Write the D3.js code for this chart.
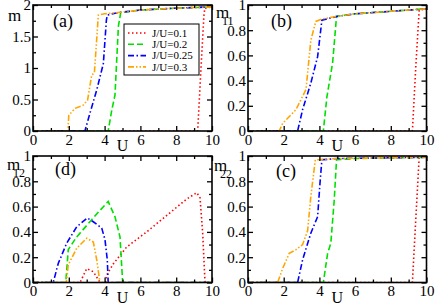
<!DOCTYPE html>
<html>
<head>
<meta charset="utf-8">
<script src="https://cdn.jsdelivr.net/npm/d3@7"></script>
<style>
  body { margin: 0; background: #fff; }
  svg, svg text { font-family: "Liberation Serif", "Times New Roman", serif !important; }
</style>
</head>
<body>
<div id="chart"></div>
<script>
// series labels / styles order: J/U = 0.1, 0.2, 0.25, 0.3
var seriesNames = ["J/U=0.1", "J/U=0.2", "J/U=0.25", "J/U=0.3"];
var xTicks = [0, 2, 4, 6, 8, 10];

// panel (a): m vs U
var mA_01 = [[0,0],[9.2,0],[9.39,1.02],[9.55,1.84],[9.6,1.95],[10,1.97]];
var mA_02 = [[0,0],[4.2,0],[4.4,0.33],[4.58,0.57],[4.77,1.66],[4.9,1.88],[6,1.92],[8,1.95],[10,1.97]];
var mA_025 = [[0,0],[2.9,0],[3.18,0.28],[3.56,0.65],[3.93,1.07],[4.1,1.76],[4.15,1.84],[4.75,1.88],[6,1.92],[8,1.95],[10,1.97]];
var mA_03 = [[0,0],[1.95,0],[2.0,0.25],[2.35,0.36],[2.8,0.41],[3.05,0.49],[3.28,0.89],[3.43,0.92],[3.65,1.84],[4.0,1.86],[4.75,1.88],[6,1.92],[8,1.95],[10,1.97]];

// panel (b): m11
var mB_01 = [[0,0],[9.21,0],[9.4,0.51],[9.59,0.96],[10,0.97]];
var mB_02 = [[0,0],[4.22,0],[4.42,0.27],[4.74,0.54],[4.96,0.91],[6,0.93],[8,0.95],[10,0.97]];
var mB_025 = [[0,0],[2.78,0],[3.06,0.17],[3.52,0.38],[3.9,0.59],[4.14,0.88],[5,0.91],[6,0.93],[8,0.95],[10,0.97]];
var mB_03 = [[0,0],[1.75,0],[1.94,0.06],[2.69,0.17],[3.25,0.33],[3.52,0.72],[3.8,0.87],[4.18,0.89],[5,0.91],[6,0.93],[8,0.95],[10,0.97]];

// panel (d): m12
var mD_01 = [[0,0],[2.63,0],[3.0,0.11],[3.37,0.085],[3.75,0],[4.05,0],[4.12,0.06],[4.5,0.15],[5.23,0.28],[6.35,0.40],[7.47,0.53],[8.59,0.66],[9.15,0.71],[9.33,0.67],[9.48,0.39],[9.61,0],[10,0]];
var mD_02 = [[0,0],[1.83,0],[1.97,0.26],[2.44,0.36],[3.18,0.48],[3.74,0.57],[4.2,0.64],[4.58,0.52],[4.86,0.36],[5.01,0],[10,0]];
var mD_025 = [[0,0],[1.13,0],[1.41,0.15],[1.88,0.31],[2.44,0.44],[3.03,0.51],[3.37,0.48],[3.84,0.43],[4.02,0.34],[4.15,0.18],[4.2,0],[10,0]];
var mD_03 = [[0,0],[1.86,0],[1.97,0.14],[2.44,0.27],[3.0,0.35],[3.37,0.32],[3.56,0.18],[3.74,0],[10,0]];

// panel (c): m22
var mC_01 = [[0,0],[9.21,0],[9.4,0.5],[9.59,0.99],[10,0.99]];
var mC_02 = [[0,0],[4.22,0],[4.46,0.23],[4.64,0.31],[4.83,0.65],[4.96,0.97],[6,0.98],[10,0.99]];
var mC_025 = [[0,0],[2.78,0],[3.06,0.18],[3.52,0.39],[3.9,0.52],[4.03,0.78],[4.14,0.97],[5,0.98],[10,0.99]];
var mC_03 = [[0,0],[1.66,0],[1.94,0.11],[2.31,0.23],[2.69,0.26],[3.06,0.30],[3.34,0.41],[3.52,0.68],[3.77,0.97],[5,0.98],[10,0.99]];

var colors = ["#ff0000", "#00e000", "#0000ff", "#ffa500"];
var dashes = ["1.5,2.5", "6,3", "6,2.5,1.5,2.5", "6,2,1.5,2,1.5,2"];
var serif = "'Liberation Serif', 'Times New Roman', serif";

var svg = d3.select("#chart").append("svg")
  .attr("width", 436)
  .attr("height", 305)
  .style("font-family", serif);

var panels = [
  {x0: 33, x1: 212, y0: 131, y1: 5, ymax: 2, yt: [0, 0.5, 1, 1.5, 2], ym: 0.25,
   series: [mA_01, mA_02, mA_025, mA_03], tag: "(a)", tx: 53, ty: 27, sub: "", lx: 8, ly: 21, legend: true},
  {x0: 248, x1: 426.5, y0: 131, y1: 5, ymax: 1, yt: [0, 0.2, 0.4, 0.6, 0.8, 1], ym: 0.1,
   series: [mB_01, mB_02, mB_025, mB_03], tag: "(b)", tx: 271, ty: 27, sub: "11", lx: 216, ly: 18},
  {x0: 33, x1: 212, y0: 282.5, y1: 156, ymax: 1, yt: [0, 0.2, 0.4, 0.6, 0.8, 1], ym: 0.1,
   series: [mD_01, mD_02, mD_025, mD_03], tag: "(d)", tx: 55, ty: 175, sub: "12", lx: 7, ly: 170},
  {x0: 248, x1: 426.5, y0: 282.5, y1: 156, ymax: 1, yt: [0, 0.2, 0.4, 0.6, 0.8, 1], ym: 0.1,
   series: [mC_01, mC_02, mC_025, mC_03], tag: "(c)", tx: 276, ty: 177, sub: "22", lx: 214, ly: 171}
];

panels.forEach(function(p) {
  var x = d3.scaleLinear().domain([0, 10]).range([p.x0, p.x1]);
  var y = d3.scaleLinear().domain([0, p.ymax]).range([p.y0, p.y1]);
  var minorX = d3.range(1, 10, 2);
  var minorY = d3.range(p.ym, p.ymax, p.ym * 2).map(function(v) { return +v.toFixed(3); });

  var clipId = "clip" + p.tag.replace(/\W/g, "");
  svg.append("clipPath").attr("id", clipId)
    .append("rect").attr("x", p.x0).attr("y", p.y1)
    .attr("width", p.x1 - p.x0).attr("height", p.y0 - p.y1);

  // curves
  var line = d3.line().x(function(d) { return x(d[0]) }).y(function(d) { return y(d[1]) });
  var g = svg.append("g").attr("clip-path", "url(#" + clipId + ")");
  p.series.forEach(function(s, i) {
    g.append("path")
      .attr("d", line(s))
      .attr("fill", "none")
      .attr("stroke", colors[i])
      .attr("stroke-width", 1.6)
      .attr("stroke-dasharray", dashes[i]);
  });

  // axes: ticks pointing inward on all four sides
  function addAxis(axis, tx, ty, labels) {
    var a = svg.append("g")
      .attr("transform", "translate(" + tx + "," + ty + ")")
      .call(axis)
      .attr("font-family", null)
      .attr("font-size", null)
      .style("font-family", serif)
      .style("font-size", "15px");
    a.select(".domain").remove();
    a.selectAll("line").attr("stroke", "#000").attr("stroke-width", 1.3);
    if (!labels) a.selectAll("text").remove();
    else a.selectAll("text").attr("fill", "#000");
    return a;
  }
  var fmt = d3.format("~g");
  addAxis(d3.axisBottom(x).tickValues(xTicks).tickSizeInner(-5).tickSizeOuter(0).tickPadding(3).tickFormat(d3.format("d")), 0, p.y0, true);
  addAxis(d3.axisBottom(x).tickValues(minorX).tickSizeInner(-3).tickSizeOuter(0).tickFormat(""), 0, p.y0, false);
  addAxis(d3.axisTop(x).tickValues(xTicks).tickSizeInner(-5).tickSizeOuter(0), 0, p.y1, false);
  addAxis(d3.axisTop(x).tickValues(minorX).tickSizeInner(-3).tickSizeOuter(0), 0, p.y1, false);
  addAxis(d3.axisLeft(y).tickValues(p.yt).tickSizeInner(-5).tickSizeOuter(0).tickPadding(2).tickFormat(fmt), p.x0, 0, true);
  addAxis(d3.axisLeft(y).tickValues(minorY).tickSizeInner(-3).tickSizeOuter(0).tickFormat(""), p.x0, 0, false);
  addAxis(d3.axisRight(y).tickValues(p.yt).tickSizeInner(-5).tickSizeOuter(0), p.x1, 0, false);
  addAxis(d3.axisRight(y).tickValues(minorY).tickSizeInner(-3).tickSizeOuter(0), p.x1, 0, false);

  // frame
  svg.append("rect")
    .attr("x", p.x0).attr("y", p.y1)
    .attr("width", p.x1 - p.x0).attr("height", p.y0 - p.y1)
    .attr("fill", "none").attr("stroke", "#000").attr("stroke-width", 1.6);

  // axis titles
  svg.append("text")
    .attr("x", (p.x0 + p.x1) / 2).attr("y", p.y0 + 20)
    .attr("text-anchor", "middle")
    .style("font-size", "16px")
    .text("U");
  var yl = svg.append("text").attr("x", p.lx).attr("y", p.ly).style("font-size", "17px");
  yl.append("tspan").text("m");
  if (p.sub) {
    yl.append("tspan").attr("x", p.lx + 6).attr("dy", 7).style("font-size", "12px").text(p.sub);
  }

  // panel tag
  svg.append("text")
    .attr("x", p.tx).attr("y", p.ty)
    .style("font-size", "18px")
    .text(p.tag);

  if (p.legend) {
    var lg = svg.append("g");
    lg.append("rect")
      .attr("x", 124).attr("y", 24).attr("width", 75).attr("height", 51)
      .attr("fill", "#fff").attr("stroke", "#000").attr("stroke-width", 1);
    seriesNames.forEach(function(name, i) {
      var yy = 33 + i * 11.3;
      lg.append("line")
        .attr("x1", 128).attr("x2", 146).attr("y1", yy).attr("y2", yy)
        .attr("stroke", colors[i]).attr("stroke-width", 1.6)
        .attr("stroke-dasharray", dashes[i]);
      lg.append("text")
        .attr("x", 152).attr("y", yy).attr("dy", "0.35em")
        .style("font-size", "11px")
        .text(name);
    });
  }
});
</script>
</body>
</html>
